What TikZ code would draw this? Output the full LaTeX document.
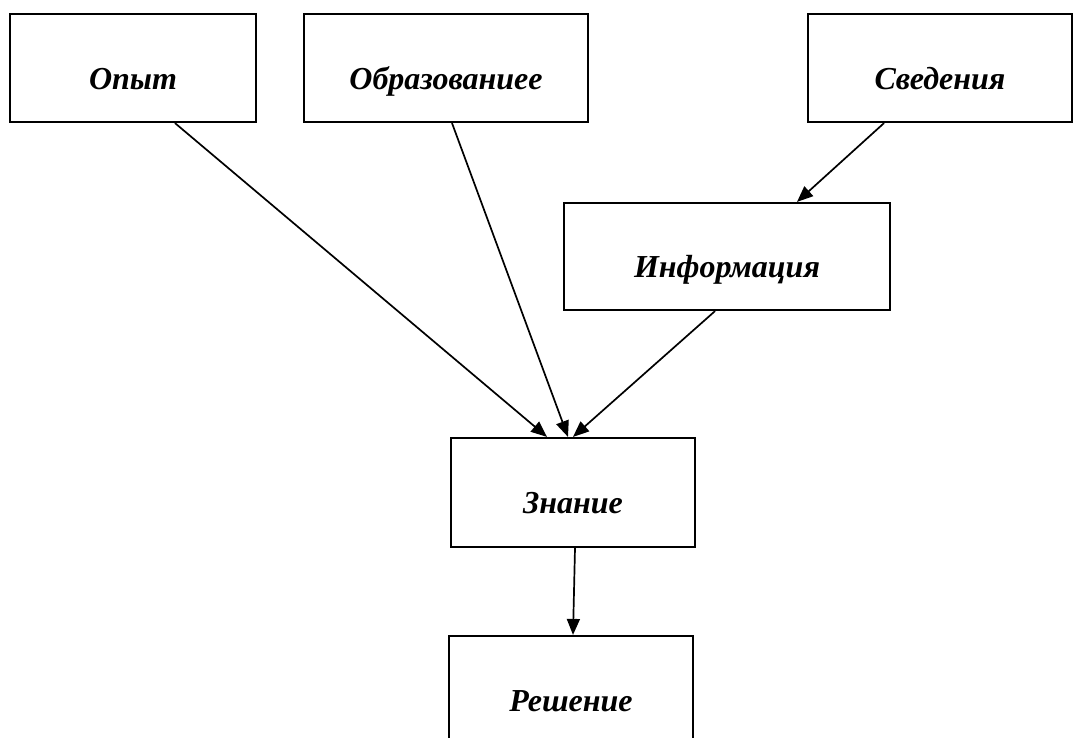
\documentclass[tikz,border=0pt]{standalone}
\usepackage{fontspec}
\setmainfont{Liberation Serif}
\usetikzlibrary{arrows.meta}
\begin{document}
\begin{tikzpicture}[x=1pt, y=-1pt, ->, >={Triangle[length=16pt,width=13pt]},
  main node/.style={rectangle, draw, line width=2.2pt, text height=42pt, text depth=0pt,
    font=\fontsize{32}{36}\selectfont\bfseries\itshape}]
                \clip (0,0) rectangle (1074,737);

                  \node[main node, minimum width=246pt, minimum height=108pt] (1) at (133,68) {Опыт};
                  \node[main node, minimum width=284pt, minimum height=108pt] (2) at (446,68) {Образованиее};
                  \node[main node, minimum width=264pt, minimum height=108pt] (3) at (940,68) {Сведения};
                  \node[main node, minimum width=326pt, minimum height=107pt] (4) at (727,256.5) {Информация};
                  \node[main node, minimum width=244pt, minimum height=109pt] (5) at (573,492.5) {Знание};
                  \node[main node, minimum width=244pt, minimum height=108pt] (6) at (571,690) {Решение};

                  \path[line width=1.7pt]
                    ([xshift=42pt]1.south) edge ([xshift=-26pt]5.north)
                    ([xshift=6pt]2.south) edge ([xshift=-5pt]5.north)
                    ([xshift=-56pt]3.south) edge ([xshift=70pt]4.north)
                    ([xshift=-12pt]4.south) edge (5.north)
                    ([xshift=2pt]5.south) edge ([xshift=2pt]6.north);

                \end{tikzpicture}
\end{document}
